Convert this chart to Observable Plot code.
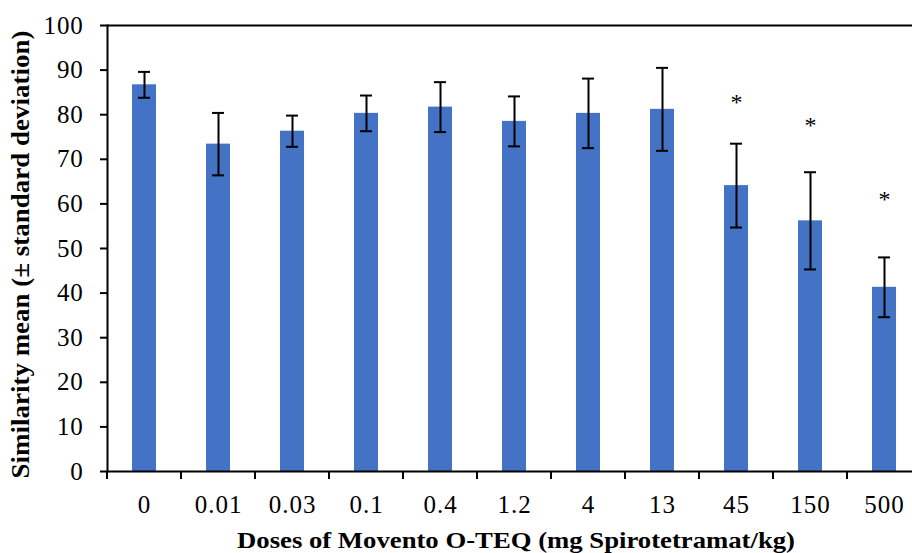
<!DOCTYPE html>
<html>
<head>
<meta charset="utf-8">
<script src="https://cdn.jsdelivr.net/npm/d3@7"></script>
<script src="https://cdn.jsdelivr.net/npm/@observablehq/plot@0.6"></script>
<style>
  html, body { margin: 0; padding: 0; background: #fff; }
  #chart svg { display: block; font-family: "Liberation Serif", "Times New Roman", serif; }
  #chart g[aria-label="x-axis tick label"] text { letter-spacing: 1px; }
  #chart g[aria-label="y-axis tick label"] text { letter-spacing: 0.8px; }
</style>
</head>
<body>
<div id="chart"></div>
<script>
const doses = ["0", "0.01", "0.03", "0.1", "0.4", "1.2", "4", "13", "45", "150", "500"];
const means = [86.7, 73.4, 76.3, 80.3, 81.7, 78.5, 80.3, 81.2, 64.1, 56.2, 41.3];
const sds   = [2.9, 7.0, 3.5, 4.0, 5.6, 5.6, 7.8, 9.3, 9.4, 10.9, 6.7];
const starDoses = ["45", "150", "500"];
const starY = [83.4, 78.3, 61.6];
const yTicks = [0, 10, 20, 30, 40, 50, 60, 70, 80, 90, 100];
const yTitle = "Similarity mean (± standard deviation)";
const xTitle = "Doses of Movento O-TEQ (mg Spirotetramat/kg)";

const data = doses.map((d, i) => ({dose: d, mean: means[i], sd: sds[i]}));
const stars = starDoses.map((d, i) => ({dose: d, y: starY[i]}));

function xBoundaryTicks(index, scales, values, dimensions) {
  const x = scales.x, y = scales.y;
  const bw = x.bandwidth ? x.bandwidth() : 0;
  const step = x(doses[1]) - x(doses[0]);
  const gap = (step - bw) / 2;
  const positions = doses.map(d => x(d) - gap).concat([x(doses[doses.length - 1]) + bw + gap]);
  const y0 = y(0);
  const g = d3.create("svg:g").attr("stroke", "#000").attr("stroke-width", 2);
  positions.forEach(px => {
    g.append("line").attr("x1", px).attr("x2", px).attr("y1", y0).attr("y2", y0 + 8);
  });
  return g.node();
}

const chart = Plot.plot({
  width: 912,
  height: 553,
  marginLeft: 107,
  marginRight: 0,
  marginTop: 25,
  marginBottom: 82,
  style: {fontFamily: "'Liberation Serif', 'Times New Roman', serif", background: "#fff"},
  x: {domain: doses, range: [107, 921], paddingInner: 0.676, paddingOuter: 0.338, align: 0.5},
  y: {domain: [0, 100]},
  marks: [
    Plot.barY(data, {x: "dose", y: "mean", fill: "#4472C4"}),
    Plot.ruleX(data, {x: "dose", y1: d => d.mean - d.sd, y2: d => d.mean + d.sd, stroke: "#000", strokeWidth: 2}),
    Plot.tickY(data, {x: "dose", y: d => d.mean + d.sd, stroke: "#000", strokeWidth: 2, insetLeft: 6, insetRight: 6}),
    Plot.tickY(data, {x: "dose", y: d => d.mean - d.sd, stroke: "#000", strokeWidth: 2, insetLeft: 6, insetRight: 6}),
    Plot.text(stars, {x: "dose", y: "y", text: () => "*", fontSize: 24, fill: "#000", dy: 3}),
    Plot.ruleY([0], {stroke: "#000", strokeWidth: 2}),
    Plot.ruleY([100], {stroke: "#000", strokeWidth: 2}),
    Plot.frame({anchor: "left", stroke: "#000", strokeWidth: 2}),
    Plot.axisY({ticks: yTicks, tickSize: 7, tickPadding: 17, fontSize: 25, stroke: "#000", strokeWidth: 2, strokeOpacity: 1, fill: "#000", label: null}),
    Plot.axisX({tickSize: 0, tickPadding: 24, fontSize: 25, fill: "#000", label: null}),
    xBoundaryTicks,
    Plot.text([yTitle], {frameAnchor: "left", dx: -87, dy: 6, rotate: -90, textAnchor: "middle", fontSize: 25, fontWeight: "bold", fill: "#000"}),
    Plot.text([xTitle], {frameAnchor: "bottom", dx: 6, dy: 76, fontSize: 24, fontWeight: "bold", fill: "#000"})
  ]
});

d3.select(chart).selectAll("text").each(function() {
  const t = this.textContent;
  if (t === xTitle) d3.select(this).attr("textLength", 558).attr("lengthAdjust", "spacingAndGlyphs");
  if (t === yTitle) d3.select(this).attr("textLength", 448).attr("lengthAdjust", "spacingAndGlyphs");
});

document.getElementById("chart").appendChild(chart);
</script>
</body>
</html>
